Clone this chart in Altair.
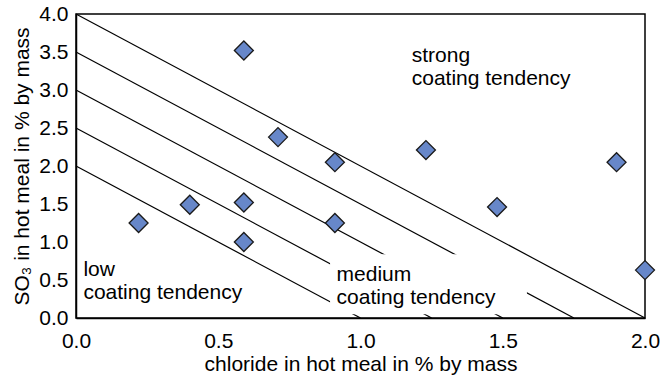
import altair as alt
import pandas as pd

# scatter data
chloride = [0.59, 0.71, 0.91, 1.23, 1.90, 1.48, 2.00, 0.22, 0.40, 0.59, 0.59, 0.91]
so3 = [3.52, 2.38, 2.05, 2.21, 2.05, 1.46, 0.63, 1.25, 1.49, 1.52, 1.00, 1.25]

# boundary lines: SO3 = c - 2 * chloride
intercepts = [2.0, 2.5, 3.0, 3.5, 4.0]

x_ticks = [0.0, 0.5, 1.0, 1.5, 2.0]
y_ticks = [0.0, 0.5, 1.0, 1.5, 2.0, 2.5, 3.0, 3.5, 4.0]

label_text = ["strong", "coating tendency", "low", "coating tendency", "medium", "coating tendency"]
label_x = [1.18, 1.18, 0.026, 0.026, 0.916, 0.916]
label_y = [3.37, 3.065, 0.555, 0.25, 0.49, 0.19]

FONT = "Liberation Sans"
FS = 21

pts = pd.DataFrame({"x": chloride, "y": so3})
lines = pd.DataFrame({"c": intercepts, "x": [0.0] * len(intercepts), "y": intercepts,
                      "x2": [c / 2 for c in intercepts], "y2": [0.0] * len(intercepts)})
labels = pd.DataFrame({"t": label_text, "x": label_x, "y": label_y})
box = pd.DataFrame({"x": [0.893], "x2": [1.585], "y": [0.05], "y2": [0.84]})

xs = alt.Scale(domain=[0, 2], nice=False, zero=False)
ys = alt.Scale(domain=[0, 4], nice=False, zero=False)

xaxis = alt.Axis(title="chloride in hot meal in % by mass", values=x_ticks, format=".1f",
                 labelPadding=12, titlePadding=2)
yaxis = alt.Axis(title="SO₃ in hot meal in % by mass", values=y_ticks, format=".1f",
                 labelPadding=8, titlePadding=6)

X = alt.X("x:Q", scale=xs, axis=xaxis)
Y = alt.Y("y:Q", scale=ys, axis=yaxis)

base_lines = alt.Chart(lines).transform_filter("datum.c < 4").mark_rule(
    color="black", strokeWidth=1.2).encode(x=X, y=Y, x2="x2:Q", y2="y2:Q")

white_box = alt.Chart(box).mark_rect(color="white").encode(
    x=X, x2="x2:Q", y=Y, y2="y2:Q")

top_line = alt.Chart(lines).transform_filter("datum.c >= 4").mark_rule(
    color="black", strokeWidth=1.2).encode(x=X, y=Y, x2="x2:Q", y2="y2:Q")

points = alt.Chart(pts).mark_point(shape="diamond", filled=True, size=360,
                                   fill="#6787C9", stroke="#1a1a1a", strokeWidth=1.3,
                                   opacity=1).encode(x=X, y=Y)

texts = alt.Chart(labels).mark_text(font=FONT, fontSize=FS, align="left",
                                    baseline="alphabetic", color="black").encode(
    x=X, y=Y, text="t:N")

chart = alt.layer(base_lines, white_box, top_line, points, texts).properties(
    width=569, height=304,
    background="white",
    autosize=alt.AutoSizeParams(type="none"),
    padding={"left": 76, "top": 14, "right": 19, "bottom": 58},
).configure_axis(
    grid=False, ticks=False, domainColor="black", domainWidth=1.5,
    labelFont=FONT, labelFontSize=FS, labelColor="black",
    titleFont=FONT, titleFontSize=FS, titleFontWeight="normal", titleColor="black",
    labelFlush=False, labelOverlap=False, labelSeparation=0,
).configure_view(stroke="black", strokeWidth=1.5)

chart.save("out.html", embed_options={"renderer": "svg", "actions": False})
